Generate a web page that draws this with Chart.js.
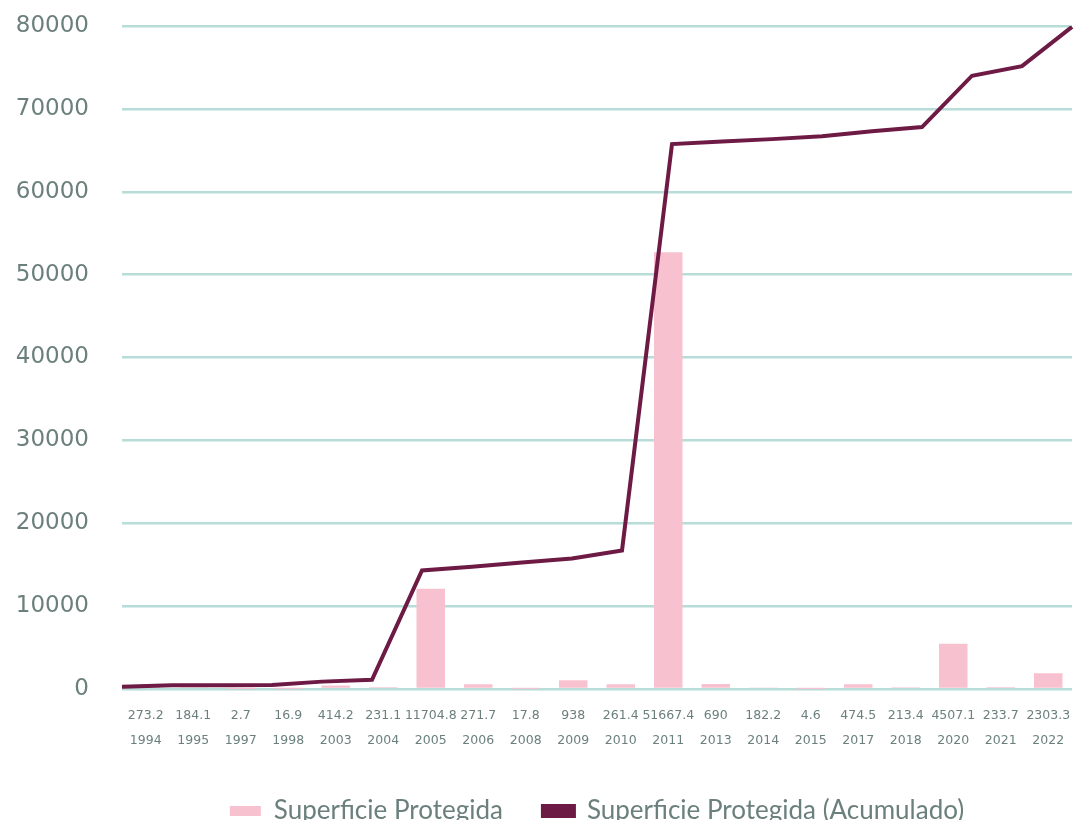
<!DOCTYPE html>
<html>
<head>
<meta charset="utf-8">
<script src="https://cdn.jsdelivr.net/npm/chart.js@4.4.1/dist/chart.umd.min.js"></script>
<style>
  html, body { margin: 0; padding: 0; background: #ffffff; overflow: hidden; }
  #wrap { width: 1074px; height: 834px; position: relative; }
</style>
</head>
<body>
<div id="wrap"><canvas id="c"></canvas></div>
<script>
// Category labels (value shown on axis + year)
const valueLabels = ['273.2','184.1','2.7','16.9','414.2','231.1','11704.8','271.7','17.8','938','261.4','51667.4','690','182.2','4.6','474.5','213.4','4507.1','233.7','2303.3'];
const years = ['1994','1995','1997','1998','2003','2004','2005','2006','2008','2009','2010','2011','2013','2014','2015','2017','2018','2020','2021','2022'];

// Bars
const superficie = [273, 184, 3, 17, 414, 231, 12100, 570, 18, 1050, 570, 52700, 600, 182, 5, 570, 213, 5470, 234, 1900];
// Cumulative line
const acumulado = [270, 455, 458, 475, 890, 1120, 14300, 14750, 15250, 15750, 16700, 65750, 66050, 66350, 66700, 67300, 67800, 74000, 75150, 79900];

const yTicks = [0, 10000, 20000, 30000, 40000, 50000, 60000, 70000, 80000];

const categories = years.map((y, i) => [valueLabels[i], y]);

const textGrey = '#6b807d';
const gridTeal = '#b8dcd8';
const pink = '#f8c1cf';
const maroon = '#6d1a45';

new Chart(document.getElementById('c'), {
  type: 'bar',
  data: {
    labels: categories,
    datasets: [
      {
        type: 'bar',
        label: 'Superficie Protegida',
        data: superficie,
        backgroundColor: pink,
        borderWidth: 0,
        grouped: false,
        barPercentage: 0.6,
        categoryPercentage: 1.0,
        xAxisID: 'x',
        yAxisID: 'y',
        order: 2
      },
      {
        type: 'line',
        label: 'Superficie Protegida (Acumulado)',
        data: acumulado,
        borderColor: maroon,
        backgroundColor: maroon,
        borderWidth: 4,
        pointRadius: 0,
        tension: 0,
        xAxisID: 'x2',
        yAxisID: 'y',
        order: 1
      }
    ]
  },
  options: {
    responsive: true,
    maintainAspectRatio: false,
    animation: false,
    layout: { padding: { top: 26, right: 2, left: 0, bottom: 0 } },
    plugins: {
      tooltip: { enabled: false },
      legend: {
        position: 'bottom',
        fullSize: false,
        labels: {
          font: { family: 'Lato', size: 26 },
          color: textGrey,
          boxWidth: 31,
          boxHeight: 10,
          padding: 40,
          sort: (a, b) => a.datasetIndex - b.datasetIndex
        }
      }
    },
    scales: {
      x: {
        type: 'category',
        offset: true,
        grid: { display: true, drawOnChartArea: false, drawTicks: true, tickLength: 15, tickColor: 'rgba(0,0,0,0)', color: 'rgba(0,0,0,0)' },
        border: { display: false },
        ticks: {
          autoSkip: false,
          maxRotation: 0,
          minRotation: 0,
          padding: 0,
          color: textGrey,
          font: { family: 'DejaVu Sans', size: 12.5, lineHeight: 1.95 }
        },
        afterFit(scale) { scale.height = 69; }
      },
      x2: {
        type: 'category',
        labels: years,
        offset: false,
        display: false
      },
      y: {
        min: 0,
        max: 80000,
        afterBuildTicks(scale) { scale.ticks = yTicks.map(v => ({ value: v })); },
        grid: { color: gridTeal, lineWidth: 2.5, drawTicks: true, tickLength: 32, tickColor: 'rgba(0,0,0,0)' },
        border: { display: false },
        ticks: {
          padding: 1,
          color: textGrey,
          font: { family: 'DejaVu Sans', size: 23 },
          callback: v => String(v)
        },
        afterFit(scale) { scale.width = 122; }
      }
    }
  }
});
</script>
</body>
</html>
